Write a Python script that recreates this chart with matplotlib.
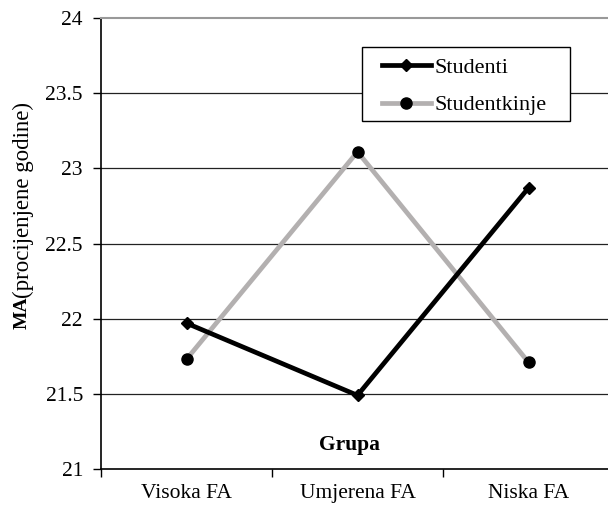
import matplotlib
matplotlib.use("Agg")
import matplotlib.pyplot as plt
from matplotlib.patches import Rectangle

groups = ["Visoka FA", "Umjerena FA", "Niska FA"]
studenti = [21.97, 21.49, 22.87]
studentkinje = [21.73, 23.11, 21.71]
yticks = [21, 21.5, 22, 22.5, 23, 23.5, 24]

plt.rcParams['font.family'] = ['Liberation Serif', 'DejaVu Serif']

W, H = 608, 508
fig = plt.figure(figsize=(W/100, H/100), dpi=100)
# plot area runs a little past the right edge of the picture
ax = fig.add_axes([101/W, (H-469)/H, 513/W, 451/H])

x = list(range(len(groups)))
ax.plot(x, studenti, color="black", lw=3.4, marker="D", ms=6, mfc="black", mec="black",
        label="Studenti", zorder=4)
ax.plot(x, studentkinje, color="#b3b0b0", lw=3.4, marker="o", ms=8, mfc="black", mec="black",
        label="Studentkinje", zorder=3)

ax.set_xlim(-0.5, 2.5)
ax.set_ylim(21, 24)
ax.set_yticks(yticks)
ax.set_yticklabels(["21", "21.5", "22", "22.5", "23", "23.5", "24"])
for v in yticks[1:-1]:
    ax.axhline(v, color="#222", lw=0.9, zorder=1)
ax.set_xticks([-0.5, 0.5, 1.5, 2.5])
ax.set_xticklabels([])
ax.set_xticks(x, minor=True)
ax.set_xticklabels(groups, minor=True)
ax.tick_params(axis="x", which="minor", length=0, pad=11, labelsize=15.5)
ax.tick_params(axis="x", which="major", length=6, width=1, direction="out")
ax.tick_params(axis="y", length=6, width=1, direction="out", pad=7, labelsize=15.5)

ax.spines["right"].set_visible(False)
ax.spines["top"].set_color("#999")
ax.spines["top"].set_linewidth(1.5)
ax.spines["left"].set_linewidth(1.2)
ax.spines["bottom"].set_linewidth(1.2)

ax.text((349-101)/513, (469-445)/451, "Grupa", transform=ax.transAxes, ha="center", va="center",
        fontsize=15.5, fontweight="bold")

fig.text(22/W, 1 - 329/H, "MA", rotation=90, ha="center", va="bottom",
         fontsize=14, fontweight="bold")
fig.text(23/W, 1 - 298/H, "(procijenjene godine)", rotation=90, ha="center", va="bottom",
         fontsize=16.5)

# legend box drawn by hand, entries placed inside it
fig.patches.append(Rectangle((362/W, 1 - 121/H), 208/W, 74/H, transform=fig.transFigure,
                             fc="white", ec="black", lw=1.0, zorder=5))
leg = fig.legend(*ax.get_legend_handles_labels(), loc="upper left",
                 bbox_to_anchor=(382/W, 1 - 57/H), fontsize=16, frameon=False,
                 handlelength=2.2, handletextpad=0.15, borderpad=0, labelspacing=0.78,
                 borderaxespad=0)
leg.set_zorder(6)

fig.savefig("out.png", dpi=100, facecolor="white")
